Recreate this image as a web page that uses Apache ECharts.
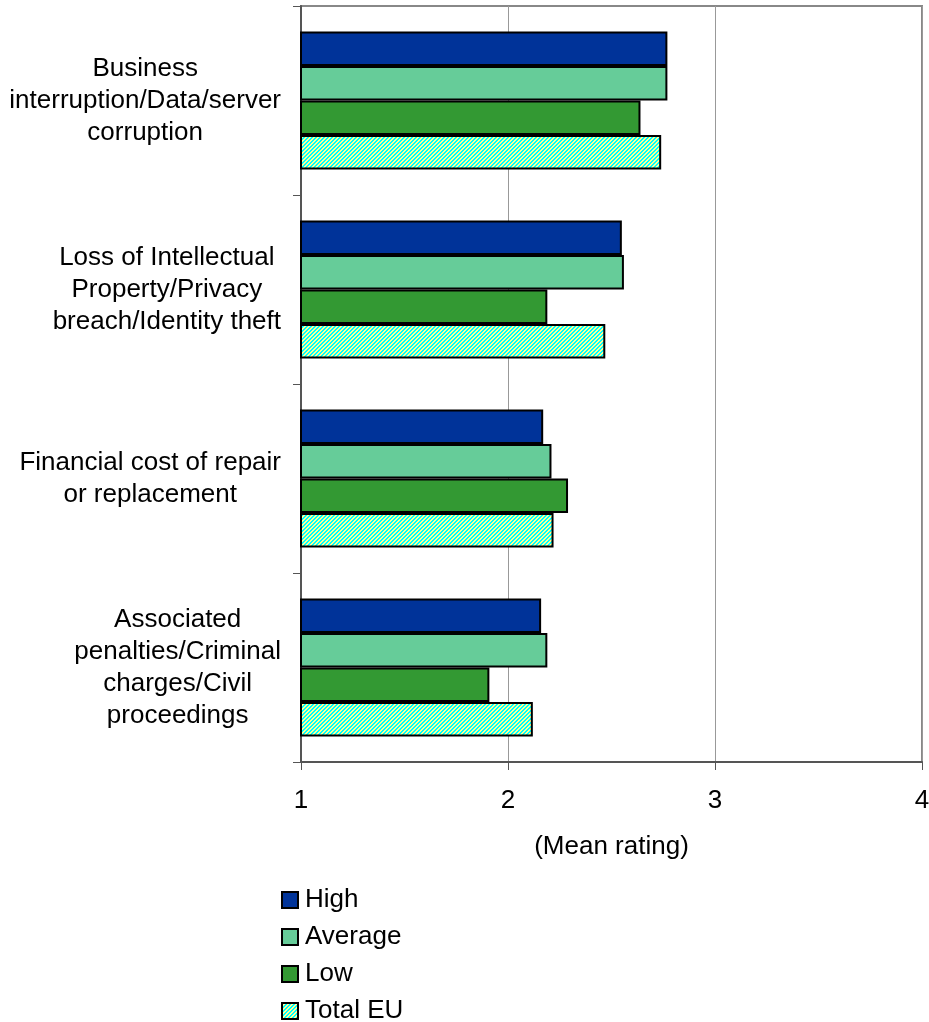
<!DOCTYPE html>
<html>
<head>
<meta charset="utf-8">
<script src="https://cdn.jsdelivr.net/npm/echarts@6/dist/echarts.min.js"></script>
<style>
  html, body { margin: 0; padding: 0; background: #ffffff; }
  #chart { width: 929px; height: 1022px; }
</style>
</head>
<body>
<div id="chart"></div>
<script>
// Risk categories, top to bottom
const categories = [
  'Business\ninterruption/Data/server\ncorruption',
  'Loss of Intellectual\nProperty/Privacy\nbreach/Identity theft',
  'Financial cost of repair\nor replacement',
  'Associated\npenalties/Criminal\ncharges/Civil\nproceedings'
];

// Mean ratings per group
const seriesNames = ['High', 'Average', 'Low', 'Total EU'];
const highValues    = [2.77, 2.55, 2.17, 2.16];
const averageValues = [2.77, 2.56, 2.21, 2.19];
const lowValues     = [2.64, 2.19, 2.29, 1.91];
const totalEuValues = [2.74, 2.47, 2.22, 2.12];

const axisTicks = [1, 2, 3, 4];
const axisTitle = '(Mean rating)';

// Diagonal cyan / pale-yellow hatch used for the EU total
function makeHatch() {
  const size = 4;
  const c = document.createElement('canvas');
  c.width = size; c.height = size;
  const ctx = c.getContext('2d');
  const img = ctx.createImageData(size, size);
  for (let y = 0; y < size; y++) {
    for (let x = 0; x < size; x++) {
      const i = (y * size + x) * 4;
      const cyan = ((x + y) % 4) < 2;
      img.data[i]     = cyan ? 0   : 255;
      img.data[i + 1] = 255;
      img.data[i + 2] = cyan ? 255 : 150;
      img.data[i + 3] = 255;
    }
  }
  ctx.putImageData(img, 0, 0);
  return c;
}

const FONT = '"Liberation Sans", Arial, Helvetica, sans-serif';
const fills = ['#003399', '#66CC99', '#339933', { image: makeHatch(), repeat: 'repeat' }];
const valueSets = [highValues, averageValues, lowValues, totalEuValues];

const chart = echarts.init(document.getElementById('chart'), null, { renderer: 'canvas' });

chart.setOption({
  animation: false,
  backgroundColor: '#ffffff',
  textStyle: { fontFamily: FONT, color: '#000' },
  grid: {
    left: 301, right: 7, top: 6, bottom: 260,
    outerBoundsMode: 'none',
    containLabel: false,
    show: true, borderColor: '#888', borderWidth: 2, backgroundColor: 'transparent'
  },
  legend: {
    orient: 'vertical',
    left: 281,
    top: 887,
    height: 170,
    padding: 0,
    itemWidth: 16,
    itemHeight: 16,
    itemGap: 11,
    icon: 'rect',
    data: seriesNames,
    textStyle: { fontFamily: FONT, fontSize: 26, lineHeight: 26, color: '#000', padding: [0, 0, 0, 2] }
  },
  xAxis: {
    type: 'value',
    min: axisTicks[0],
    max: axisTicks[axisTicks.length - 1],
    interval: 1,
    name: axisTitle,
    nameLocation: 'middle',
    nameGap: 72,
    nameTextStyle: { fontFamily: FONT, fontSize: 26, color: '#000' },
    axisLine: { show: true, lineStyle: { color: '#555', width: 2 } },
    axisTick: { show: true, inside: false, length: 8, lineStyle: { color: '#555', width: 1 } },
    axisLabel: { fontFamily: FONT, fontSize: 26, color: '#000', margin: 26 },
    splitLine: { show: true, lineStyle: { color: '#999', width: 1 } }
  },
  yAxis: {
    type: 'category',
    inverse: true,
    data: categories,
    axisLine: { show: true, lineStyle: { color: '#555', width: 2 } },
    axisTick: { show: true, inside: false, length: 8, lineStyle: { color: '#555', width: 1 } },
    axisLabel: {
      margin: 20,
      formatter: v => '{c|' + v + '}',
      rich: {
        c: { align: 'center', fontFamily: FONT, fontSize: 26, lineHeight: 32, color: '#000' }
      }
    },
    splitLine: { show: false }
  },
  series: seriesNames.map((name, k) => ({
    name,
    type: 'bar',
    data: valueSets[k],
    barGap: '0%',
    barCategoryGap: '27%',
    itemStyle: { color: fills[k], borderColor: '#000', borderWidth: 2 }
  }))
});
</script>
</body>
</html>
